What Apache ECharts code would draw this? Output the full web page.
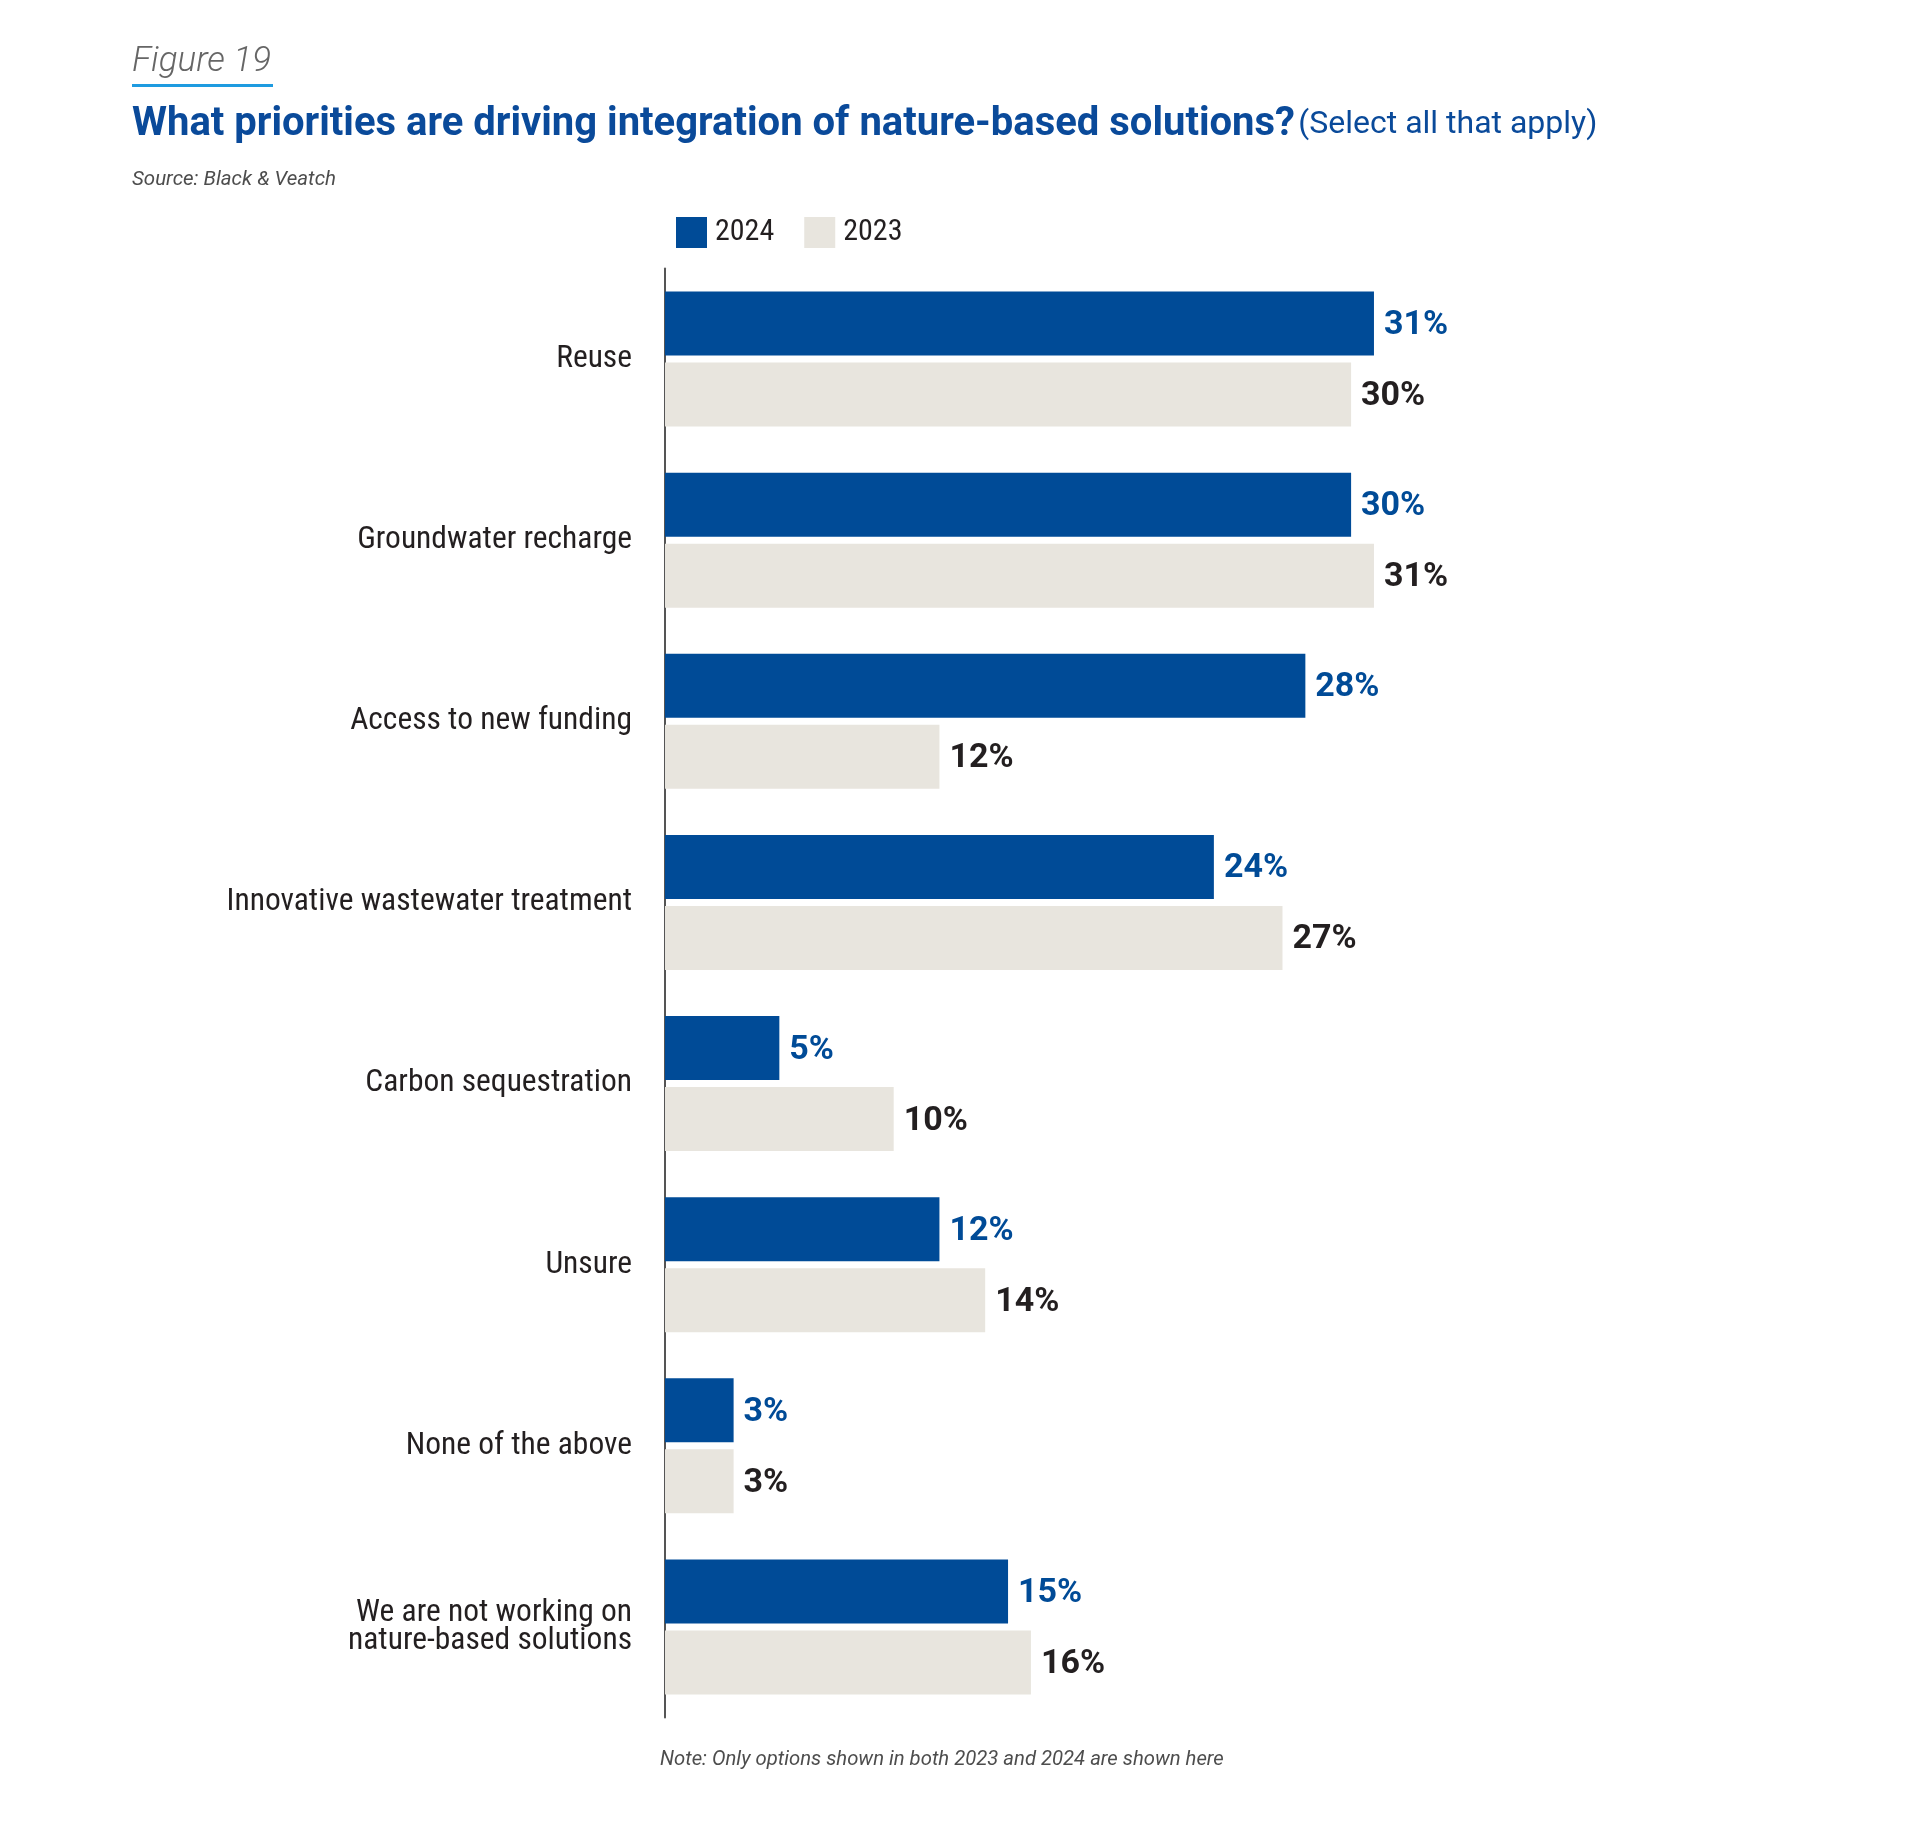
<!DOCTYPE html>
<html>
<head>
<meta charset="utf-8">
<script src="https://cdn.jsdelivr.net/npm/echarts@6/dist/echarts.min.js"></script>
<style>
html,body{margin:0;padding:0;background:#fff;}
#chart{width:1920px;height:1823px;}
</style>
</head>
<body>
<div id="chart"></div>
<script>
const categories = [
  'Reuse',
  'Groundwater recharge',
  'Access to new funding',
  'Innovative wastewater treatment',
  'Carbon sequestration',
  'Unsure',
  'None of the above',
  'We are not working on\nnature-based solutions'
];
const values2024 = [31, 30, 28, 24, 5, 12, 3, 15];
const values2023 = [30, 31, 12, 27, 10, 14, 3, 16];
const seriesNames = ['2024', '2023'];

const BLUE = '#004b97';
const BEIGE = '#e8e5de';
const DARK = '#231f20';
const CAT_FONT = '"Roboto Condensed", "Liberation Sans Narrow", Roboto, sans-serif';

const chart = echarts.init(document.getElementById('chart'), null, {renderer: 'canvas'});
chart.setOption({
  backgroundColor: '#ffffff',
  animation: false,
  grid: {left: 665, top: 268.5, width: 1143.5, height: 1449, containLabel: false},
  legend: {
    left: 676, top: 217, padding: 0,
    itemWidth: 31, itemHeight: 31, itemGap: 30,
    icon: 'rect',
    data: seriesNames,
    textStyle: {fontSize: 30, color: DARK, fontFamily: CAT_FONT, padding: [0, 0, 0, 3]}
  },
  xAxis: {
    type: 'value', min: 0, max: 50,
    show: false
  },
  yAxis: {
    type: 'category', inverse: true, data: categories,
    axisLine: {show: true, lineStyle: {color: '#555555', width: 2}},
    axisTick: {show: false},
    splitLine: {show: false},
    axisLabel: {
      fontSize: 31.5, color: DARK, margin: 33, fontFamily: CAT_FONT,
      lineHeight: 28, align: 'right'
    }
  },
  series: [
    {
      name: seriesNames[0], type: 'bar', data: values2024,
      barWidth: 64, barGap: '11%',
      itemStyle: {color: BLUE},
      label: {show: true, position: 'right', distance: 10, formatter: '{c}%', offset: [0, 2],
        fontSize: 34, fontWeight: 'bold', color: BLUE, fontFamily: 'Roboto, sans-serif'}
    },
    {
      name: seriesNames[1], type: 'bar', data: values2023,
      barWidth: 64, barGap: '11%',
      itemStyle: {color: BEIGE},
      label: {show: true, position: 'right', distance: 10, formatter: '{c}%', offset: [0, 2],
        fontSize: 34, fontWeight: 'bold', color: DARK, fontFamily: 'Roboto, sans-serif'}
    }
  ],
  graphic: [
    {type: 'text', left: 132, top: 45, style: {text: 'Figure 19', fontSize: 35, fontStyle: 'italic', fontWeight: 300,
      fontFamily: 'Roboto, sans-serif', fill: '#666666'}},
    {type: 'rect', shape: {x: 132, y: 84, width: 141, height: 3}, style: {fill: '#1e9be0'}},
    {type: 'text', left: 132, top: 105, style: {
      rich: {
        a: {fontSize: 40, fontWeight: 'bold', fill: '#0a4a9a', fontFamily: 'Roboto, sans-serif'},
        b: {fontSize: 32, fontWeight: 'normal', fill: '#0a4a9a', fontFamily: 'Roboto, sans-serif'}
      },
      text: '{a|What priorities are driving integration of nature-based solutions?} {b|(Select all that apply)}'
    }},
    {type: 'text', left: 132, top: 170, style: {text: 'Source: Black & Veatch', fontSize: 20.5, fontStyle: 'italic',
      fontFamily: 'Roboto, sans-serif', fill: '#4d4d4d'}},
    {type: 'text', left: 660, top: 1750, style: {text: 'Note: Only options shown in both 2023 and 2024 are shown here', fontSize: 20.3, fontStyle: 'italic',
      fontFamily: 'Roboto, sans-serif', fill: '#4d4d4d'}}
  ]
});
</script>
</body>
</html>
